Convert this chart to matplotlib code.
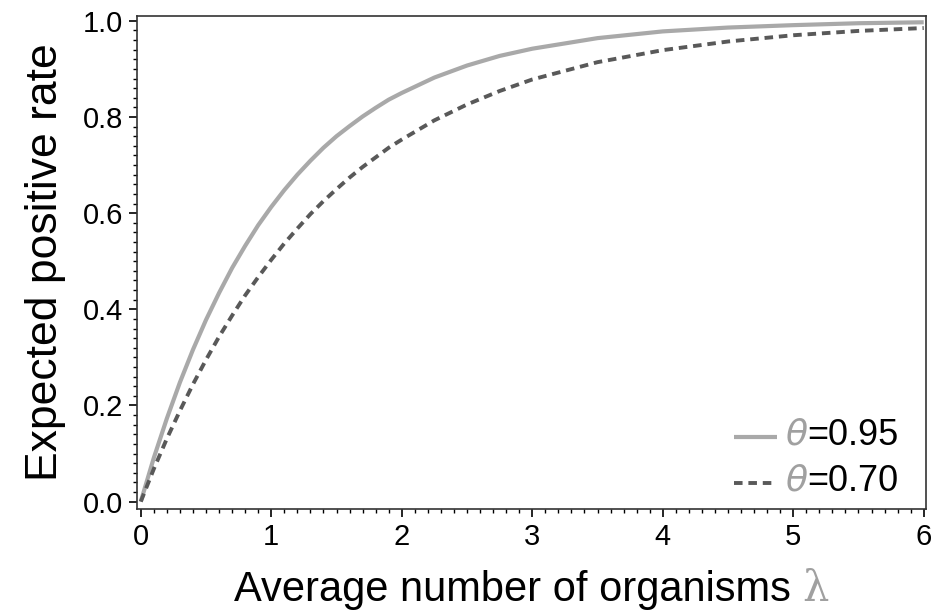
import numpy as np
import matplotlib
matplotlib.use("Agg")
import matplotlib.pyplot as plt
from matplotlib.ticker import MultipleLocator
from matplotlib.offsetbox import AnchoredOffsetbox, HPacker, VPacker, TextArea, DrawingArea
from matplotlib.lines import Line2D

plt.rcParams['font.family'] = ['Liberation Sans', 'DejaVu Sans']

# values
lam = [0, 0.1, 0.2, 0.3, 0.4, 0.5, 0.6, 0.7, 0.8, 0.9, 1.0,
       1.1, 1.2, 1.3, 1.4, 1.5, 1.6, 1.7, 1.8, 1.9, 2.0,
       2.25, 2.5, 2.75, 3.0,
       3.5, 4.0, 4.5, 5.0, 5.5, 6.0]
p95 = [0, 0.091, 0.173, 0.248, 0.316, 0.378, 0.434, 0.486, 0.532, 0.575, 0.613,
       0.648, 0.680, 0.709, 0.736, 0.760, 0.781, 0.801, 0.819, 0.836, 0.850,
       0.882, 0.907, 0.927, 0.942,
       0.964, 0.978, 0.986, 0.991, 0.995, 0.997]
p70 = [0, 0.068, 0.131, 0.189, 0.244, 0.295, 0.343, 0.387, 0.429, 0.467, 0.503,
       0.537, 0.568, 0.598, 0.625, 0.650, 0.674, 0.696, 0.716, 0.736, 0.753,
       0.793, 0.826, 0.854, 0.878,
       0.914, 0.939, 0.957, 0.970, 0.979, 0.985]
labels = ["=0.95", "=0.70"]

c_light = "#a9a9a9"
c_dark = "#595959"

fig = plt.figure(figsize=(9.31, 6.16), dpi=100)
ax = fig.add_axes([0.147, 0.174, 0.848, 0.800])

ax.plot(lam, p95, color=c_light, lw=3.0, solid_capstyle='butt', solid_joinstyle='round')
ax.plot(lam, p70, color=c_dark, lw=2.8, dashes=(2.2, 1.5), dash_capstyle='butt')

ax.set_xlim(-0.03, 6.02)
ax.set_ylim(-0.015, 1.01)
ax.xaxis.set_major_locator(MultipleLocator(1))
ax.xaxis.set_minor_locator(MultipleLocator(0.1))
ax.yaxis.set_major_locator(MultipleLocator(0.2))
ax.yaxis.set_minor_locator(MultipleLocator(0.02))
ax.xaxis.set_major_formatter(plt.FuncFormatter(lambda v, p: f"{v:.0f}"))
ax.yaxis.set_major_formatter(plt.FuncFormatter(lambda v, p: f"{v:.1f}"))
ax.tick_params(which='major', direction='out', length=6, width=1.2, labelsize=21, pad=4)
ax.tick_params(which='minor', direction='out', length=3, width=1.0)
for s in ax.spines.values():
    s.set_linewidth(1.2)
    s.set_color("#333333")

ax.set_ylabel("Expected positive rate", fontsize=32, labelpad=12)

# x label: black text + gray lambda
xl = HPacker(children=[TextArea("Average number of organisms ", textprops=dict(fontsize=30, color="black")),
                       TextArea("λ", textprops=dict(fontsize=30, color="#a0a0a0", family="DejaVu Serif"))],
             align="baseline", pad=0, sep=0)
ab = AnchoredOffsetbox(loc='upper center', child=xl, frameon=False, pad=0,
                       bbox_to_anchor=(0.5, -0.12), bbox_transform=ax.transAxes, borderpad=0)
ax.add_artist(ab)

# legend with gray theta
rows = []
styles = [dict(color=c_light, lw=3.0), dict(color=c_dark, lw=2.8, dashes=(2.2, 1.5))]
for lab, st in zip(labels, styles):
    da = DrawingArea(31, 20, 0, 0)
    da.add_artist(Line2D([0, 31], [9, 9], solid_capstyle='butt', dash_capstyle='butt', **st))
    txt = HPacker(children=[TextArea("θ", textprops=dict(fontsize=26, color="#a0a0a0", style='italic', family="DejaVu Sans")),
                            TextArea(lab, textprops=dict(fontsize=26, color="black"))],
                  align="baseline", pad=0, sep=0)
    rows.append(HPacker(children=[da, txt], align="center", pad=0, sep=6))
leg = VPacker(children=rows, align="right", pad=0, sep=8)
ab2 = AnchoredOffsetbox(loc='lower right', child=leg, frameon=False, pad=0,
                        bbox_to_anchor=(0.965, 0.02), bbox_transform=ax.transAxes, borderpad=0)
ax.add_artist(ab2)

fig.savefig("out.png", dpi=100)
